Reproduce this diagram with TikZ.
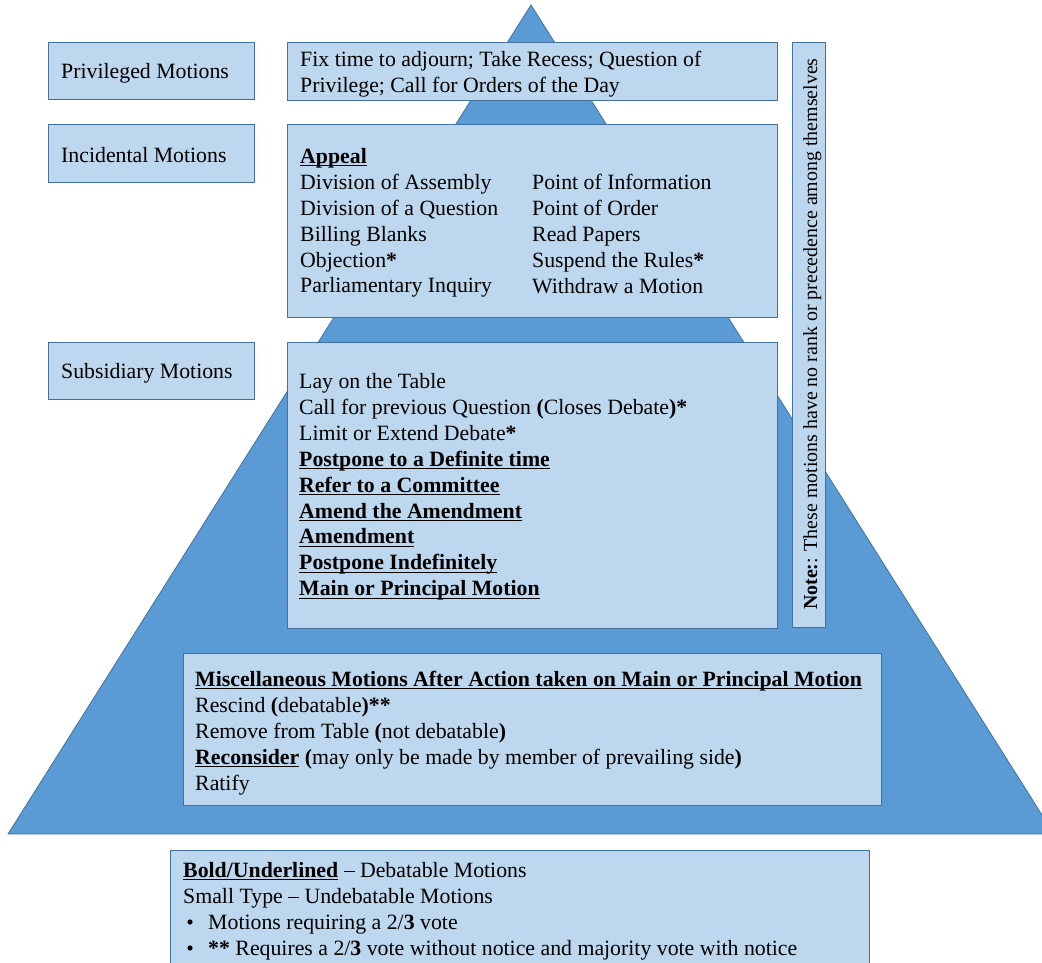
\documentclass[tikz,border=0pt]{standalone}
\usepackage{fontspec}
\setmainfont{Liberation Serif}
\definecolor{tri}{HTML}{5B9BD5}
\definecolor{boxfill}{HTML}{BDD7EE}
\definecolor{edge}{HTML}{41719C}
\newcommand{\ulx}[1]{\setbox0\hbox{#1}\rlap{\rule[-2.4pt]{\wd0}{1pt}}\box0}
\newcommand{\mydash}{\rule[0.21em]{0.5em}{0.05em}}
\newcommand{\sym}[1]{{\bfseries #1}}
\begin{document}
\begin{tikzpicture}[x=1pt,y=-1pt,
  box/.style={draw=edge, line width=1pt, fill=boxfill, inner sep=0pt, anchor=north west},
  txt/.style={anchor=north west, inner sep=0pt, align=left, scale=1.09, font=\rmfamily\fontsize{20}{23.85}\selectfont}]
\useasboundingbox (0,0) rectangle (1042,963);
\clip (0,0) rectangle (1042,963);
\fill[white] (0,0) rectangle (1042,963);
% pyramid
\draw[edge, line width=0.8pt, fill=tri] (531,5) -- (1054,834) -- (8,834) -- cycle;
% left labels
\node[box, minimum width=206pt, minimum height=57pt] (privB) at (48,42) {};
\node[box, minimum width=206pt, minimum height=58pt] (incB) at (48,124) {};
\node[box, minimum width=206pt, minimum height=57pt] (subB) at (48,342) {};
% content boxes
\node[box, minimum width=490pt, minimum height=58pt] (fixB) at (287,42) {};
\node[box, minimum width=490pt, minimum height=193pt] (appB) at (287,124) {};
\node[box, minimum width=490pt, minimum height=286pt] (lstB) at (287,342) {};
\node[box, minimum width=33pt, minimum height=585pt] (noteB) at (792,42) {};
\node[box, minimum width=698pt, minimum height=152pt] (miscB) at (183,653) {};
\node[box, minimum width=699pt, minimum height=125pt] (legB) at (170,850) {};
% text anchors
\coordinate (cPriv) at (61,59.6);
\coordinate (cInc) at (61,143.6);
\coordinate (cSub) at (61,359.6);
\coordinate (cFix) at (300,47.6);
\coordinate (cApp1) at (300,144.6);
\coordinate (cApp2) at (532,170.6);
\coordinate (cLst) at (299,369.6);
\coordinate (cMisc) at (195,667.6);
\coordinate (cLeg) at (183,858.6);
\coordinate (cBul) at (208,910.6);
\coordinate (cNote) at (817,610);
% texts
\node[txt] (privT) at (cPriv) {\strut Privileged Motions};
\node[txt] (incT) at (cInc) {\strut Incidental Motions};
\node[txt] (subT) at (cSub) {\strut Subsidiary Motions};
\node[txt] (fixT) at (cFix) {\strut Fix time to adjourn; Take Recess; Question of\\Privilege; Call for Orders of the Day};
\node[txt] (appT1) at (cApp1) {\strut\textbf{\ulx{Appeal}}\\Division of Assembly\\Division of a Question\\Billing Blanks\\Objection\sym{*}\\Parliamentary Inquiry};
\node[txt] (appT2) at (cApp2) {\strut Point of Information\\Point of Order\\Read Papers\\Suspend the Rules\sym{*}\\Withdraw a Motion};
\node[txt] (lstT) at (cLst) {\strut Lay on the Table\\Call for previous Question \sym{(}Closes Debate\sym{)*}\\Limit or Extend Debate\sym{*}\\\textbf{\ulx{Postpone to a Definite time}}\\\textbf{\ulx{Refer to a Committee}}\\\textbf{\ulx{Amend the Amendment}}\\\textbf{\ulx{Amendment}}\\\textbf{\ulx{Postpone Indefinitely}}\\\textbf{\ulx{Main or Principal Motion}}};
\node[txt] (miscT) at (cMisc) {\strut\textbf{\ulx{Miscellaneous Motions After Action taken on Main or Principal Motion}}\\Rescind \sym{(}debatable\sym{)**}\\Remove from Table \sym{(}not debatable\sym{)}\\\textbf{\ulx{Reconsider}} \sym{(}may only be made by member of prevailing side\sym{)}\\Ratify};
\node[txt] (legT) at (cLeg) {\strut\textbf{\ulx{Bold/Underlined}} \mydash{} Debatable Motions\\Small Type \mydash{} Undebatable Motions};
\node[txt] (bulT) at (cBul) {\strut Motions requiring a 2/\sym{3} vote\\\sym{**} Requires a 2/\sym{3} vote without notice and majority vote with notice};
\fill (190,922) circle (2.6);
\fill (190,948) circle (2.6);
\node[rotate=90, anchor=base west, inner sep=0pt, scale=0.995, font=\rmfamily\fontsize{20}{24}\selectfont] (noteT) at (cNote) {\textbf{Note:}: These motions have no rank or precedence among themselves};
\end{tikzpicture}
\end{document}
